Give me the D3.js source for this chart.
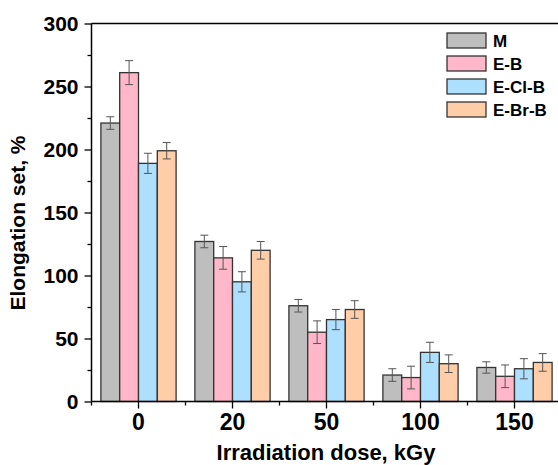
<!DOCTYPE html>
<html><head><meta charset="utf-8">
<script src="https://cdn.jsdelivr.net/npm/d3@7"></script>
<style>body{margin:0;background:#fff}svg{display:block}</style>
</head><body>
<svg id="c" width="558" height="465"></svg>
<script>
const doses = ["0", "20", "50", "100", "150"];
const seriesNames = ["M", "E-B", "E-Cl-B", "E-Br-B"];
const seriesColors = ["#bebebe", "#ffb7c9", "#addfff", "#ffcda8"];
const valM    = [221, 127, 76, 21, 27];
const valEB   = [261, 114, 55, 19, 20];
const valEClB = [189, 95, 65, 39, 26];
const valEBrB = [199, 120, 73, 30, 31];
const errM    = [5, 5, 5, 5, 4.5];
const errEB   = [9.5, 9, 9, 9, 9];
const errEClB = [8, 8, 8, 8, 8];
const errEBrB = [6.5, 7, 7, 7, 7];
const yTicks = [0, 50, 100, 150, 200, 250, 300];
const yMinorTicks = [25, 75, 125, 175, 225, 275];

const values = [valM, valEB, valEClB, valEBrB];
const errs = [errM, errEB, errEClB, errEBrB];

const svg = d3.select("#c");
const FONT = "Liberation Sans, Arial, sans-serif";
const mLeft = 91.5, mTop = 23.5, mBottom = 401.5;
const x = d3.scaleBand().domain(doses).range([mLeft, mLeft + 470]).paddingInner(0.2).paddingOuter(0.1);
const xb = d3.scaleBand().domain(doses).range([mLeft, mLeft + 470]);
const xs = d3.scaleBand().domain(seriesNames).range([0, x.bandwidth()]);
const y = d3.scaleLinear().domain([0, 300]).range([mBottom, mTop]);

// bars
const rows = [];
doses.forEach((d, i) => seriesNames.forEach((s, j) => rows.push({d, s, j, v: values[j][i], e: errs[j][i]})));
const g = svg.append("g");
g.selectAll("rect").data(rows).enter().append("rect")
  .attr("x", r => x(r.d) + xs(r.s))
  .attr("y", r => y(r.v))
  .attr("width", xs.bandwidth())
  .attr("height", r => y(0) - y(r.v))
  .attr("fill", r => seriesColors[r.j])
  .attr("stroke", "#333")
  .attr("stroke-width", 1.3);

// error bars
const eg = svg.append("g").attr("stroke", "#555").attr("stroke-width", 1);
rows.forEach(r => {
  const cx = x(r.d) + xs(r.s) + xs.bandwidth() / 2;
  eg.append("line").attr("x1", cx).attr("x2", cx).attr("y1", y(r.v + r.e)).attr("y2", y(r.v - r.e));
  eg.append("line").attr("x1", cx - 4).attr("x2", cx + 4).attr("y1", y(r.v + r.e)).attr("y2", y(r.v + r.e));
  eg.append("line").attr("x1", cx - 4).attr("x2", cx + 4).attr("y1", y(r.v - r.e)).attr("y2", y(r.v - r.e));
});

// y axis
const yAxis = d3.axisLeft(y).tickValues(yTicks).tickSize(7).tickPadding(6);
const ya = svg.append("g").attr("transform", `translate(${mLeft},0)`).call(yAxis);
ya.select(".domain").attr("stroke", "#000").attr("stroke-width", 1.5).attr("d", `M0,${mBottom}V${mTop}`);
ya.selectAll(".tick line").attr("stroke", "#000").attr("stroke-width", 1.3);
ya.selectAll("text").attr("font-family", FONT).attr("font-weight", "bold").attr("font-size", 21).attr("fill", "#000");
const yMinor = d3.axisLeft(y).tickValues(yMinorTicks).tickSize(4).tickFormat("");
const ym = svg.append("g").attr("transform", `translate(${mLeft},0)`).call(yMinor);
ym.select(".domain").remove();
ym.selectAll(".tick line").attr("stroke", "#000").attr("stroke-width", 1.3);

// x axis
const xAxis = d3.axisBottom(xb).tickSize(7).tickPadding(5);
const xa = svg.append("g").attr("transform", `translate(0,${mBottom})`).call(xAxis);
xa.select(".domain").attr("stroke", "#000").attr("stroke-width", 1.5).attr("d", `M${mLeft},0H${mLeft + 470}`);
xa.selectAll(".tick line").attr("stroke", "#000").attr("stroke-width", 1.3);
xa.selectAll("text").attr("font-family", FONT).attr("font-weight", "bold").attr("font-size", 23).attr("fill", "#000").attr("dy", "0.72em");
// minor x ticks at group boundaries
const xg = svg.append("g");
doses.forEach(d => {
  xg.append("line").attr("x1", xb(d)).attr("x2", xb(d)).attr("y1", mBottom).attr("y2", mBottom + 4).attr("stroke", "#000").attr("stroke-width", 1.3);
});

// top frame line
svg.append("line").attr("x1", mLeft).attr("x2", 558).attr("y1", mTop).attr("y2", mTop).attr("stroke", "#000").attr("stroke-width", 1.5);

// axis titles
svg.append("text").attr("x", 326).attr("y", 460).attr("text-anchor", "middle")
  .attr("font-family", FONT).attr("font-weight", "bold").attr("font-size", 22)
  .text("Irradiation dose, kGy");
svg.append("text").attr("transform", "translate(25,223) rotate(-90)").attr("text-anchor", "middle")
  .attr("font-family", FONT).attr("font-weight", "bold").attr("font-size", 21)
  .text("Elongation set, %");

// legend
const lg = svg.append("g").attr("transform", "translate(447,33)");
seriesNames.forEach((s, j) => {
  const row = lg.append("g").attr("transform", `translate(0,${j * 23})`);
  row.append("rect").attr("width", 39).attr("height", 15).attr("fill", seriesColors[j]).attr("stroke", "#333").attr("stroke-width", 1.3);
  row.append("text").attr("x", 46).attr("y", 13.5).attr("font-family", FONT)
    .attr("font-weight", "bold").attr("font-size", 17).text(s);
});
</script>
</body></html>
